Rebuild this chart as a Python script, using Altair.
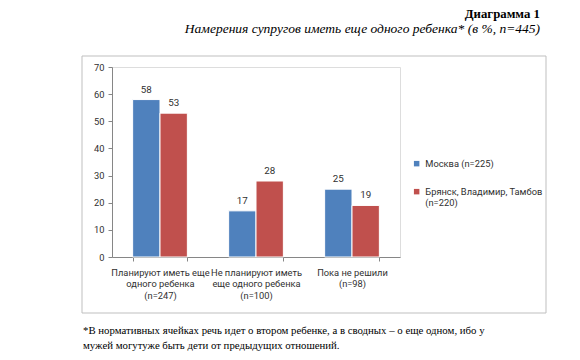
import altair as alt
import pandas as pd

categories = ["Планируют иметь еще|одного ребенка|(n=247)",
              "Не планируют иметь|еще одного ребенка|(n=100)",
              "Пока не решили|(n=98)"]
series = ["Москва (n=225)", "Брянск, Владимир, Тамбов|(n=220)"]
moscow = [58, 17, 25]
regions = [53, 28, 19]
colors = ["#4F81BD", "#C0504D"]
title1 = "Диаграмма 1"
title2 = "Намерения супругов иметь еще одного ребенка* (в %, n=445)"
note1 = "*В нормативных ячейках речь идет о втором ребенке, а в сводных – о еще одном, ибо у"
note2 = "мужей могутуже быть дети от предыдущих отношений."

rows = []
for c, a, b in zip(categories, moscow, regions):
    rows.append({"cat": c, "series": series[0], "v": a})
    rows.append({"cat": c, "series": series[1], "v": b})
df = pd.DataFrame(rows)

FONT = "Roboto"
FS = 9.3
SERIF = "Liberation Serif"

x = alt.X("cat:N", sort=categories, title=None,
          scale=alt.Scale(paddingInner=0.43, paddingOuter=0.215),
          axis=alt.Axis(labelAngle=0, labelExpr="split(datum.label, '|')",
                        labelFont=FONT, labelFontSize=FS, labelColor="#303030",
                        labelLineHeight=11.5, labelPadding=7, labelBaseline="top",
                        tickBand="extent", tickSize=4, tickColor="#868686",
                        domainColor="#868686", labelLimit=200))
xo = alt.XOffset("series:N", sort=series, scale=alt.Scale(paddingInner=0, paddingOuter=0))
y = alt.Y("v:Q", title=None,
          scale=alt.Scale(domain=[0, 70]),
          axis=alt.Axis(values=list(range(0, 71, 10)), grid=False,
                        labelFont=FONT, labelFontSize=FS, labelColor="#303030",
                        tickSize=4, tickColor="#868686", domainColor="#868686",
                        labelPadding=4))
color = alt.Color("series:N", sort=series, title=None,
                  scale=alt.Scale(domain=series, range=colors),
                  legend=alt.Legend(orient="none", legendX=300, legendY=92,
                                    symbolType="square", symbolSize=30,
                                    symbolStrokeWidth=0,
                                    labelFont=FONT, labelFontSize=FS,
                                    labelColor="#303030",
                                    labelExpr="split(datum.label, '|')",
                                    labelLimit=250, rowPadding=18, padding=0,
                                    labelOffset=4))

base = alt.Chart(df)
bars = base.mark_bar(stroke="white", strokeWidth=1).encode(x=x, xOffset=xo, y=y, color=color)
labels = base.mark_text(baseline="bottom", dy=-5, font=FONT, fontSize=9.8,
                        color="#303030").encode(x=x, xOffset=xo, y=y, text="v:Q")

one = alt.Chart(alt.Data(values=[{}]))
frame = one.mark_rect(fillOpacity=0, stroke="#BFBFBF", strokeWidth=1).encode(
    x=alt.value(-30), x2=alt.value(434), y=alt.value(-11), y2=alt.value(246))
t1 = one.mark_text(align="right", baseline="alphabetic", font=SERIF, fontSize=12.8,
                   fontWeight="bold", color="black").encode(
    x=alt.value(428), y=alt.value(-49.5), text=alt.value(title1))
t2 = one.mark_text(align="right", baseline="alphabetic", font=SERIF, fontSize=13.5,
                   fontStyle="italic", color="black").encode(
    x=alt.value(428), y=alt.value(-34.5), text=alt.value(title2))
n1 = one.mark_text(align="left", baseline="alphabetic", font=SERIF, fontSize=10.8,
                   color="black").encode(
    x=alt.value(-29), y=alt.value(267), text=alt.value(note1))
n2 = one.mark_text(align="left", baseline="alphabetic", font=SERIF, fontSize=10.8,
                   color="black").encode(
    x=alt.value(-29), y=alt.value(282), text=alt.value(note2))

chart = alt.layer(frame, bars, labels, t1, t2, n1, n2).properties(
    width=288, height=190,
    autosize=alt.AutoSizeParams(type="none"),
    padding={"left": 104, "top": 59, "right": 172, "bottom": 95},
).configure_view(stroke=None).configure(background="white")

chart.save("out.html", embed_options={"renderer": "svg", "actions": False})
